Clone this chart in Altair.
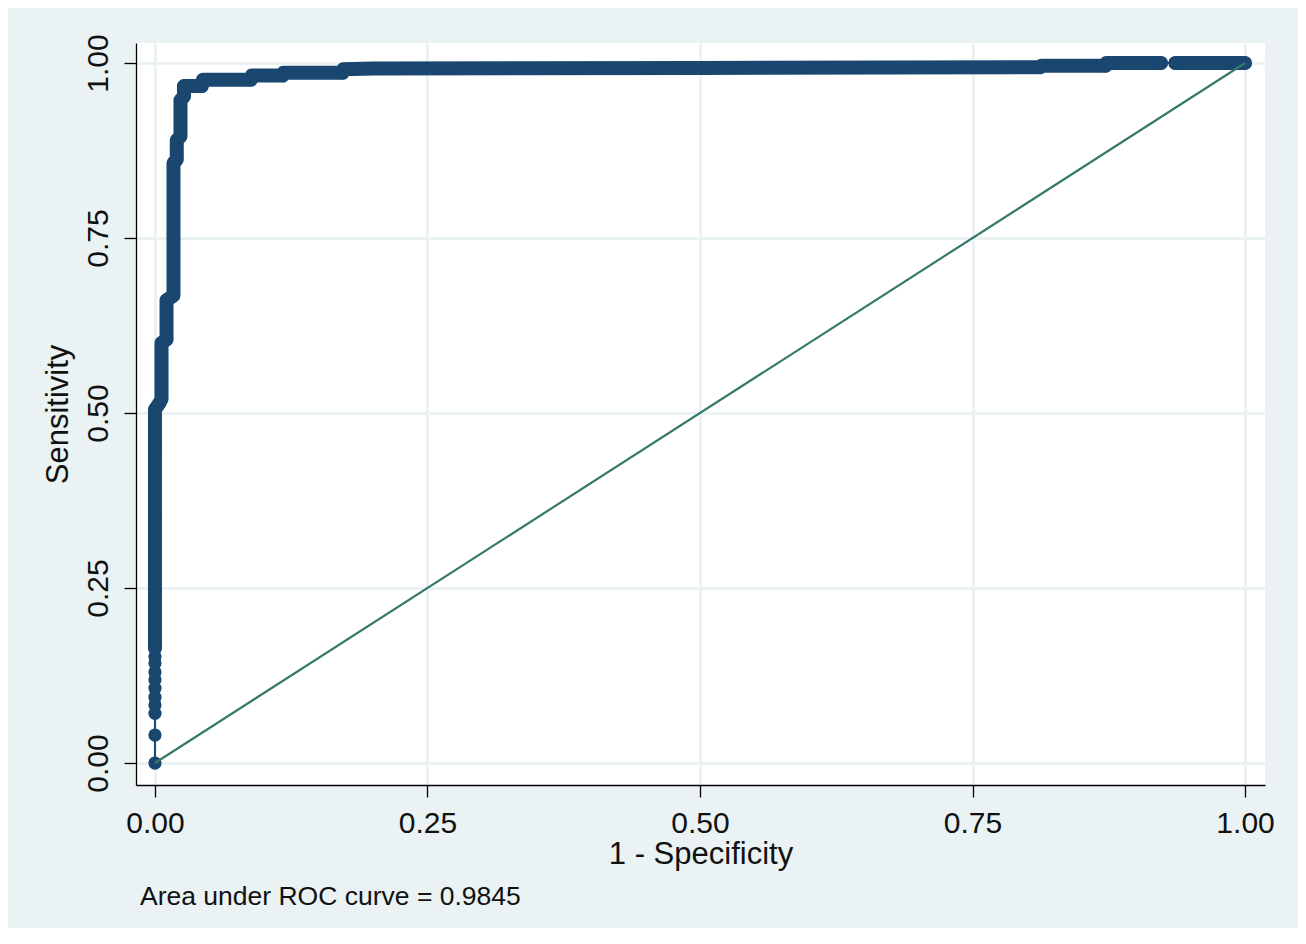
import altair as alt
import pandas as pd

# ROC curve points (1 - specificity, sensitivity)
fpr = [0.0, 0.0, 0.0, 0.0, 0.0, 0.0, 0.0, 0.0, 0.0, 0.0, 0.0,
       0.0, 0.0, 0.0, 0.0,
       0.004, 0.006, 0.006, 0.0106, 0.0106, 0.017, 0.017, 0.020, 0.020,
       0.0234, 0.0234, 0.0266, 0.0266,
       0.043, 0.044, 0.088, 0.089, 0.117, 0.118, 0.172, 0.173, 0.200,
       0.500, 0.812, 0.813, 0.872, 0.873, 0.923, 0.936, 1.0]
tpr = [0.0, 0.04, 0.071, 0.083, 0.094, 0.107, 0.119, 0.13, 0.143, 0.152, 0.164,
       0.25, 0.35, 0.45, 0.505,
       0.514, 0.52, 0.60, 0.605, 0.661, 0.668, 0.857, 0.862, 0.89,
       0.895, 0.947, 0.952, 0.967,
       0.967, 0.976, 0.976, 0.982, 0.982, 0.986, 0.986, 0.991, 0.992,
       0.993, 0.994, 0.996, 0.996, 1.0, 1.0, 1.0, 1.0]

ref_x = [0.0, 1.0]
ref_y = [0.0, 1.0]

tick_values = [0.0, 0.25, 0.5, 0.75, 1.0]
note_text = "Area under ROC curve = 0.9845"
x_title = "1 - Specificity"
y_title = "Sensitivity"

NAVY = "#1a476f"
TEAL = "#357a6a"
BG = "#EAF2F3"
FONT = "Liberation Sans"

df = pd.DataFrame({"fpr": fpr, "tpr": tpr})
df["idx"] = range(len(df))
ref = pd.DataFrame({"fpr": ref_x, "tpr": ref_y})
note = pd.DataFrame({"t": [note_text]})

xs = alt.X(
    "fpr:Q",
    scale=alt.Scale(domain=[-0.0174, 1.0183], nice=False, zero=False),
    axis=alt.Axis(
        values=tick_values, format=".2f", title=x_title,
        labelBaseline="alphabetic", labelPadding=35, labelFlush=False,
        titleBaseline="alphabetic", titleY=78,
    ),
)
ys = alt.Y(
    "tpr:Q",
    scale=alt.Scale(domain=[-0.0314, 1.0286], nice=False, zero=False),
    axis=alt.Axis(
        values=tick_values, format=".2f", title=y_title,
        labelAngle=270, labelAlign="center", labelBaseline="alphabetic",
        labelPadding=17, labelFlush=False,
        titleAngle=270, titleBaseline="alphabetic", titleX=-69,
    ),
)

base = alt.Chart(df)

thin = base.mark_line(color=NAVY, strokeWidth=2).encode(
    x=xs, y=ys, order="idx:Q"
)

band = (
    base.transform_calculate(
        seg="datum.tpr < 0.16 ? 0 : (datum.fpr > 0.93 ? 2 : 1)"
    )
    .transform_filter("datum.seg > 0")
    .mark_line(color=NAVY, strokeWidth=14, strokeCap="round", strokeJoin="round")
    .encode(x="fpr:Q", y="tpr:Q", detail="seg:N", order="idx:Q")
)

dots = base.mark_circle(color=NAVY, size=175, opacity=1).encode(
    x="fpr:Q", y="tpr:Q"
)

diag = alt.Chart(ref).mark_line(color=TEAL, strokeWidth=2.2).encode(
    x="fpr:Q", y="tpr:Q"
)

note_mark = alt.Chart(note).mark_text(
    align="left", baseline="alphabetic", fontSize=26.5, font=FONT, color="#111111"
).encode(x=alt.value(4), y=alt.value(862), text="t:N")

chart = (
    alt.layer(thin, band, dots, diag, note_mark)
    .properties(
        width=1129,
        height=742,
        autosize="none",
        padding={"left": 128, "top": 35, "right": 33, "bottom": 143},
        background=BG,
    )
    .configure_view(fill="white", strokeWidth=0)
    .configure_axis(
        domainColor="#000000",
        domainWidth=1.3,
        tickColor="#000000",
        tickWidth=1.3,
        tickSize=12,
        gridColor=BG,
        gridWidth=3,
        labelFont=FONT,
        labelFontSize=30,
        labelColor="#111111",
        titleFont=FONT,
        titleFontSize=31,
        titleFontWeight="normal",
        titleColor="#111111",
    )
)

chart.save("out.html", embed_options={"renderer": "svg", "actions": False})
